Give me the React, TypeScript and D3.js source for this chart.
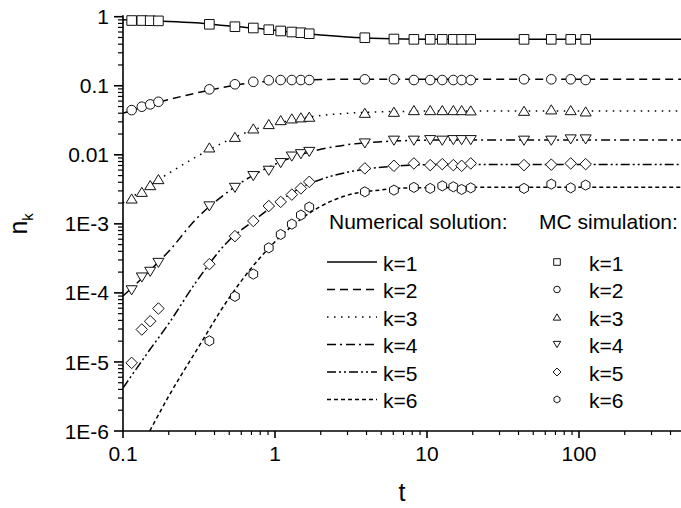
import React from 'react';
import * as d3 from 'd3';

// ---------- data ----------
const T_LINE = [0.1, 0.15, 0.2, 0.3, 0.5, 0.7, 1, 1.5, 2, 3, 5, 7, 10, 20, 50, 100, 500];
const N1_LINE = [0.90, 0.875, 0.855, 0.815, 0.735, 0.69, 0.635, 0.578, 0.545, 0.51, 0.485, 0.476, 0.472, 0.471, 0.471, 0.471, 0.471];
const N2_LINE = [0.040, 0.053, 0.063, 0.078, 0.098, 0.110, 0.117, 0.121, 0.123, 0.124, 0.124, 0.124, 0.124, 0.124, 0.124, 0.124, 0.124];
const N3_LINE = [0.0020, 0.0036, 0.0054, 0.0092, 0.0165, 0.0225, 0.028, 0.034, 0.037, 0.040, 0.042, 0.0425, 0.043, 0.043, 0.043, 0.043, 0.043];
const N4_LINE = [9e-5, 2.1e-4, 4.0e-4, 1.15e-3, 3.0e-3, 4.9e-3, 7.3e-3, 1.02e-2, 1.2e-2, 1.4e-2, 1.55e-2, 1.6e-2, 1.63e-2, 1.64e-2, 1.64e-2, 1.64e-2, 1.64e-2];
const N5_LINE = [4.2e-6, 1.5e-5, 3.6e-5, 1.4e-4, 5.8e-4, 1.05e-3, 1.9e-3, 3.4e-3, 4.4e-3, 5.6e-3, 6.6e-3, 7.0e-3, 7.2e-3, 7.25e-3, 7.25e-3, 7.25e-3, 7.25e-3];
const N6_LINE = [null, 1.0e-6, 3.2e-6, 1.4e-5, 8.5e-5, 2.3e-4, 5.5e-4, 1.2e-3, 1.8e-3, 2.6e-3, 3.1e-3, 3.3e-3, 3.35e-3, 3.38e-3, 3.38e-3, 3.38e-3, 3.38e-3];

const T_MC = [0.114, 0.133, 0.151, 0.171, 0.37, 0.545, 0.72, 0.91, 1.09, 1.29, 1.48, 1.68, 3.9, 6.06, 8.2, 10.5, 12.6, 14.9, 16.9, 19.4, 43.5, 65.7, 88.2, 110.6];
const N1_MC = [0.88, 0.88, 0.875, 0.87, 0.776, 0.716, 0.686, 0.648, 0.621, 0.600, 0.586, 0.567, 0.496, 0.475, 0.470, 0.470, 0.470, 0.470, 0.470, 0.470, 0.470, 0.470, 0.470, 0.470];
const N2_MC = [0.0444, 0.0497, 0.0537, 0.0586, 0.0887, 0.105, 0.114, 0.120, 0.121, 0.121, 0.121, 0.121, 0.124, 0.124, 0.121, 0.121, 0.121, 0.121, 0.121, 0.121, 0.124, 0.124, 0.124, 0.121];
const N3_MC = [0.00233, 0.00291, 0.00364, 0.00445, 0.0128, 0.0182, 0.0241, 0.0279, 0.0318, 0.0337, 0.0349, 0.0356, 0.0406, 0.0420, 0.0444, 0.0444, 0.0444, 0.0444, 0.0444, 0.0440, 0.0434, 0.0455, 0.0444, 0.0425];
const N4_MC = [1.09e-4, 1.67e-4, 2.02e-4, 2.72e-4, 1.79e-3, 3.32e-3, 4.91e-3, 5.87e-3, 7.58e-3, 9.42e-3, 1.02e-2, 1.10e-2, 1.46e-2, 1.60e-2, 1.60e-2, 1.63e-2, 1.60e-2, 1.63e-2, 1.63e-2, 1.63e-2, 1.60e-2, 1.60e-2, 1.67e-2, 1.67e-2];
const N5_MC = [9.7e-6, 2.95e-5, 3.89e-5, 5.94e-5, 2.61e-4, 6.64e-4, 1.10e-3, 1.81e-3, 2.08e-3, 2.65e-3, 3.26e-3, 4.06e-3, 6.36e-3, 6.93e-3, 7.50e-3, 7.09e-3, 7.33e-3, 7.09e-3, 6.93e-3, 7.50e-3, 7.09e-3, 7.20e-3, 7.50e-3, 7.33e-3];
const N6_MC = [null, null, null, null, 2.02e-5, 8.9e-5, 1.87e-4, 4.49e-4, 7.02e-4, 9.9e-4, 1.34e-3, 1.75e-3, 2.91e-3, 3.08e-3, 3.37e-3, 3.26e-3, 3.55e-3, 3.44e-3, 3.15e-3, 3.32e-3, 3.26e-3, 3.76e-3, 3.32e-3, 3.64e-3];

const X_TICKS = [0.1, 1, 10, 100];
const X_TICK_LABELS = ['0.1', '1', '10', '100'];
const Y_TICKS = [1, 0.1, 0.01, 1e-3, 1e-4, 1e-5, 1e-6];
const Y_TICK_LABELS = ['1', '0.1', '0.01', '1E-3', '1E-4', '1E-5', '1E-6'];
const K_LABELS = ['k=1', 'k=2', 'k=3', 'k=4', 'k=5', 'k=6'];
const LEGEND_TITLE_LINES = 'Numerical solution:';
const LEGEND_TITLE_MC = 'MC simulation:';
const X_LABEL = 't';

// ---------- styles ----------
const LINES = [N1_LINE, N2_LINE, N3_LINE, N4_LINE, N5_LINE, N6_LINE];
const MCS = [N1_MC, N2_MC, N3_MC, N4_MC, N5_MC, N6_MC];
const DASHES = ['none', '8,5', '1.5,5.5', '9,4,2,4', '9,3,2,3,2,3', '4,3'];
const SHAPES = ['square', 'circle', 'triUp', 'triDown', 'diamond', 'hexagon'];
const FONT = '"Liberation Sans", Arial, Helvetica, sans-serif';

const W = 681, H = 508;
const X0 = 123, XDEC = 152;
const YB = 431, YT = 16.7;

function shapePath(kind: string, r: number): string {
  switch (kind) {
    case 'square':
      return `M${-r},${-r}H${r}V${r}H${-r}Z`;
    case 'triUp': {
      const w = r * 1.15, h = r * 0.95;
      return `M0,${-h}L${w},${h}L${-w},${h}Z`;
    }
    case 'triDown': {
      const w = r * 1.15, h = r * 0.95;
      return `M0,${h}L${w},${-h}L${-w},${-h}Z`;
    }
    case 'diamond': {
      const d = r * 1.2;
      return `M0,${-d}L${d},0L0,${d}L${-d},0Z`;
    }
    case 'hexagon': {
      const pts = d3.range(6).map(i => {
        const a = (-90 + 60 * i) * Math.PI / 180;
        return [Math.cos(a) * r * 1.05, Math.sin(a) * r * 1.05];
      });
      return 'M' + pts.map(p => p.join(',')).join('L') + 'Z';
    }
    default: {
      const c = d3.path();
      c.arc(0, 0, r, 0, Math.PI * 2);
      c.closePath();
      return c.toString();
    }
  }
}

export default function App() {
  const x = d3.scaleLog().domain([0.1, 500]).range([X0, X0 + XDEC * Math.log10(5000)]);
  const y = d3.scaleLog().domain([1e-6, 1]).range([YB, YT]);

  const xMinor: number[] = [];
  for (let d = -1; d <= 2; d++) for (let m = 2; m <= 9; m++) {
    const v = m * Math.pow(10, d);
    if (x(v) <= W) xMinor.push(v);
  }
  const yMinor: number[] = [];
  for (let d = -6; d <= -1; d++) for (let m = 2; m <= 9; m++) yMinor.push(m * Math.pow(10, d));

  const lineGen = d3.line<[number, number | null]>()
    .defined(d => d[1] != null)
    .x(d => x(d[0]))
    .y(d => y(d[1] as number))
    .curve(d3.curveMonotoneX);

  const rowY = (i: number) => 263 + i * 27.5;

  return (
    <svg width={W} height={H} style={{ position: 'absolute', left: 0, top: 0, background: '#fff' }}
      fontFamily={FONT}>
      <defs>
        <clipPath id="plotclip">
          <rect x={X0} y={0} width={W - X0} height={YB} />
        </clipPath>
      </defs>

      {/* lines */}
      <g clipPath="url(#plotclip)">
        {LINES.map((vals, k) => (
          <path key={k}
            d={lineGen(T_LINE.map((t, i) => [t, vals[i]] as [number, number | null])) || ''}
            fill="none" stroke="#000" strokeWidth={1.5}
            strokeDasharray={DASHES[k]} />
        ))}
      </g>

      {/* markers */}
      {MCS.map((vals, k) => (
        <g key={k}>
          {T_MC.map((t, i) => vals[i] == null ? null : (
            <path key={i} d={shapePath(SHAPES[k], 4.8)}
              transform={`translate(${x(t)},${y(vals[i] as number)})`}
              fill="#fff" stroke="#111" strokeWidth={1} />
          ))}
        </g>
      ))}

      {/* axes */}
      <g stroke="#000" strokeWidth={1.6}>
        <line x1={X0} x2={X0} y1={YT - 1.5} y2={YB} />
        <line x1={X0} x2={W} y1={YB} y2={YB} />
        {Y_TICKS.map((v, i) => <line key={'ym' + i} x1={X0 - 9} x2={X0} y1={y(v)} y2={y(v)} />)}
        {yMinor.map((v, i) => <line key={'yn' + i} x1={X0 - 5} x2={X0} y1={y(v)} y2={y(v)} strokeWidth={1.2} />)}
        {X_TICKS.map((v, i) => <line key={'xm' + i} x1={x(v)} x2={x(v)} y1={YB} y2={YB + 7} />)}
        {xMinor.map((v, i) => <line key={'xn' + i} x1={x(v)} x2={x(v)} y1={YB} y2={YB + 4} strokeWidth={1.2} />)}
      </g>

      {/* tick labels */}
      <g fontSize={21} fill="#000">
        {Y_TICKS.map((v, i) => (
          <text key={'yl' + i} x={X0 - 14} y={y(v)} dy="0.36em" textAnchor="end">{Y_TICK_LABELS[i]}</text>
        ))}
        {X_TICKS.map((v, i) => (
          <text key={'xl' + i} x={x(v)} y={461} textAnchor="middle">{X_TICK_LABELS[i]}</text>
        ))}
      </g>

      {/* axis titles */}
      <text x={(X0 + W) / 2} y={501} fontSize={25} textAnchor="middle">{X_LABEL}</text>
      <text transform={`translate(27,${(YT + YB) / 2}) rotate(-90)`} fontSize={25} textAnchor="middle">
        n<tspan fontSize={15} dy={6}>k</tspan>
      </text>

      {/* legend */}
      <g fontSize={21} fill="#000">
        <text x={329} y={229}>{LEGEND_TITLE_LINES}</text>
        <text x={539} y={229}>{LEGEND_TITLE_MC}</text>
        {K_LABELS.map((lab, k) => (
          <g key={k}>
            <line x1={327} x2={377} y1={rowY(k) - 1} y2={rowY(k) - 1} stroke="#000" strokeWidth={1.5}
              strokeDasharray={DASHES[k]} />
            <text x={383} y={rowY(k)} dy="0.36em">{lab}</text>
            <path d={shapePath(SHAPES[k], 3.3)} transform={`translate(557,${rowY(k) - 1})`}
              fill="#fff" stroke="#111" strokeWidth={1} />
            <text x={589} y={rowY(k)} dy="0.36em">{lab}</text>
          </g>
        ))}
      </g>
    </svg>
  );
}
